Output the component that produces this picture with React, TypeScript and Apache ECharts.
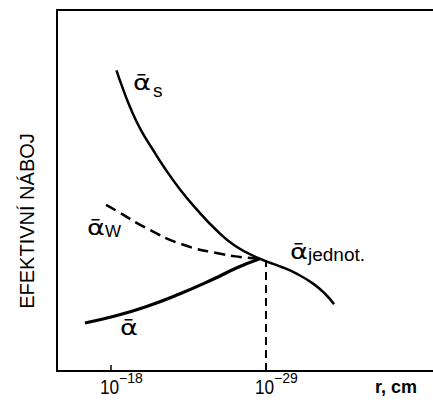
import React, { useEffect, useRef } from "react";
import * as echarts from "echarts";

// x: -log10(r/cm) ; y: effective charge (arbitrary units 0..100)
const xTicks = [18, 29];
const tickBase = "10";
const tickExponents = ["−18", "−29"];

// ᾱ_s, continuing beyond the unification point as ᾱ_jednot.
const alphaSX = [18.39, 18.78, 19.35, 20.06, 20.91, 21.83, 22.9, 24.1, 25.38, 26.8, 28.55, 29.99, 31.2, 32.34, 33.19, 33.83];
const alphaSY = [83.3, 78.9, 73.1, 67.2, 61.7, 56.1, 50.3, 44.7, 39.4, 34.7, 31.1, 29.0, 26.9, 24.2, 21.4, 18.5];
// ᾱ_W (dashed)
const alphaWX = [17.65, 18.43, 20.41, 23.02, 25.86, 27.16, 28.55];
const alphaWY = [46.0, 44.3, 39.8, 35.1, 32.4, 31.6, 31.1];
// ᾱ (electromagnetic)
const alphaX = [16.15, 18.14, 20.48, 22.9, 25.24, 26.94, 28.55];
const alphaY = [13.3, 15.1, 17.8, 21.4, 25.4, 28.6, 31.1];

const unifyX = 29;
const unifyY = 30.6;

// curve labels: text, data anchor (left, baseline), font size
const labelTexts = ["ᾱ", "s", "ᾱ", "W", "ᾱ", "ᾱ", "jednot."];
const labelX = [19.56, 20.98, 16.3, 17.57, 18.64, 30.7, 31.98];
const labelY = [78.3, 76.4, 38.1, 37.3, 10.3, 31.4, 30.8];
const labelSize = [21, 19, 21, 17, 21, 21, 19];

const xMin = 14.17;
const xMax = 40.85;

const SANS = "Liberation Sans, Arial, Helvetica, sans-serif";
const GREEK = "DejaVu Sans, Liberation Sans, sans-serif";

const zip = (xs: number[], ys: number[]) => xs.map((x, i) => [x, ys[i]]);

export default function App() {
  const ref = useRef<HTMLDivElement>(null);
  useEffect(() => {
    if (!ref.current) return;
    const chart = echarts.init(ref.current, undefined, { renderer: "svg" });
    const lineBase = {
      type: "line",
      smooth: 0.5,
      showSymbol: false,
      symbol: "none",
    };
    chart.setOption({
      animation: false,
      backgroundColor: "#ffffff",
      grid: { left: 57, right: 0, top: 10, bottom: 31, containLabel: false },
      xAxis: [
        {
          type: "value",
          position: "bottom",
          min: xMin,
          max: xMax,
          splitLine: { show: false },
          axisLine: { show: true, onZero: false, lineStyle: { color: "#000", width: 2 } },
          axisTick: {
            show: true,
            inside: true,
            length: 6,
            customValues: xTicks,
            lineStyle: { color: "#000", width: 1.5 },
          },
          axisLabel: { show: false },
        },
        {
          type: "value",
          position: "top",
          min: xMin,
          max: xMax,
          splitLine: { show: false },
          axisLine: { show: true, onZero: false, lineStyle: { color: "#000", width: 2 } },
          axisTick: { show: false },
          axisLabel: { show: false },
        },
      ],
      yAxis: {
        type: "value",
        min: 0,
        max: 100,
        splitLine: { show: false },
        axisLine: { show: true, onZero: false, lineStyle: { color: "#000", width: 2 } },
        axisTick: { show: false },
        axisLabel: { show: false },
      },
      series: [
        {
          ...lineBase,
          name: "ᾱ_s / ᾱ_jednot",
          data: zip(alphaSX, alphaSY),
          lineStyle: { color: "#000", width: 2.5 },
        },
        {
          ...lineBase,
          name: "ᾱ_W",
          data: zip(alphaWX, alphaWY),
          lineStyle: { color: "#000", width: 2.5, type: [11, 6] },
        },
        {
          ...lineBase,
          name: "ᾱ",
          data: zip(alphaX, alphaY),
          lineStyle: { color: "#000", width: 3.2 },
          markLine: {
            silent: true,
            symbol: "none",
            label: { show: false },
            lineStyle: { color: "#000", width: 2, type: [8, 5] },
            data: [[{ coord: [unifyX, 0] }, { coord: [unifyX, unifyY] }]],
          },
        },
      ],
    });

    const graphics: any[] = labelTexts.map((t, i) => {
      const p = chart.convertToPixel({ gridIndex: 0 }, [labelX[i], labelY[i]]) as number[];
      const size = labelSize[i];
      const greek = t === "ᾱ";
      return {
        type: "text",
        x: p[0],
        y: p[1] + size * 0.23,
        scaleX: greek ? 1.3 : 1,
        style: {
          text: t,
          fill: "#000",
          fontSize: size,
          fontFamily: greek ? GREEK : SANS,
          align: "left",
          verticalAlign: "bottom",
        },
      };
    });

    // tick labels 10^-n, placed from the axis scale
    xTicks.forEach((v, i) => {
      const p = chart.convertToPixel({ gridIndex: 0 }, [v, 0]) as number[];
      graphics.push({
        type: "text",
        x: p[0] - 11,
        y: p[1] + 26,
        scaleX: 0.82,
        style: {
          text: tickBase,
          fill: "#000",
          fontSize: 21,
          fontFamily: SANS,
          align: "left",
          verticalAlign: "bottom",
        },
      });
      graphics.push({
        type: "text",
        x: p[0] + 8,
        y: p[1] + 13.5,
        style: {
          text: tickExponents[i],
          fill: "#000",
          fontSize: 14,
          fontFamily: SANS,
          align: "left",
          verticalAlign: "bottom",
        },
      });
    });

    graphics.push({
      type: "text",
      x: 27,
      y: 221,
      rotation: Math.PI / 2,
      style: {
        text: "EFEKTIVNÍ NÁBOJ",
        fill: "#000",
        fontSize: 20,
        fontFamily: SANS,
        align: "center",
        verticalAlign: "middle",
      },
    });
    graphics.push({
      type: "text",
      x: 375,
      y: 396,
      style: {
        text: "r, cm",
        fill: "#000",
        fontSize: 18,
        fontWeight: "bold",
        fontFamily: SANS,
        align: "left",
        verticalAlign: "bottom",
      },
    });
    chart.setOption({ graphic: graphics });

    return () => chart.dispose();
  }, []);
  return <div ref={ref} style={{ width: 433, height: 402, position: "absolute", left: 0, top: 0 }} />;
}
